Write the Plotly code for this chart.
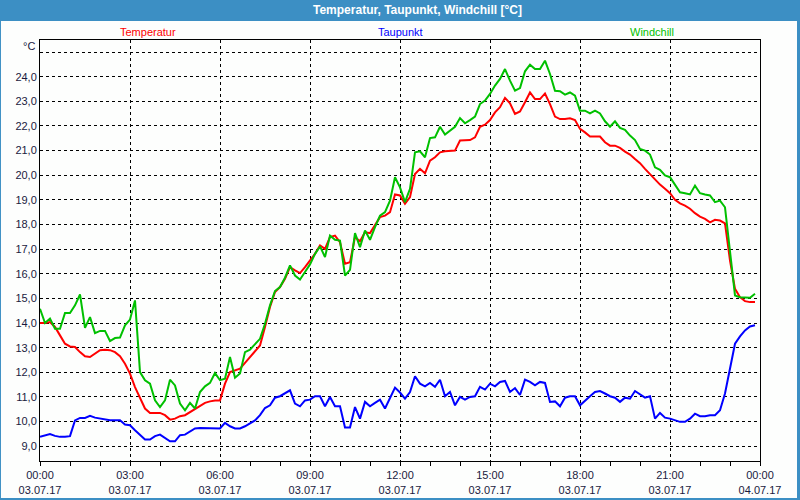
import pandas as pd
import plotly.graph_objects as go

# 10-minute readings, 03.07.17 00:00 .. 23:50
zeit = pd.date_range("2017-07-03 00:00", periods=144, freq="10min")

temperatur = [
    14.0, 14.0, 14.04, 13.84, 13.5, 13.16, 13.05, 13.03, 12.82, 12.65, 12.62, 12.76,
    12.9, 12.92, 12.9, 12.82, 12.65, 12.35, 11.95, 11.4, 10.93, 10.53, 10.35, 10.35,
    10.35, 10.26, 10.08, 10.12, 10.22, 10.26, 10.39, 10.53, 10.66, 10.76, 10.82, 10.86,
    10.86, 11.54, 12.01, 12.08, 12.15, 12.38, 12.62, 12.82, 13.09, 13.84, 14.65, 15.26,
    15.46, 15.8, 16.27, 16.14, 16.03, 16.27, 16.54, 16.81, 17.15, 17.01, 17.49, 17.55,
    17.28, 16.41, 16.47, 17.49, 17.32, 17.69, 17.65, 17.96, 18.3, 18.36, 18.5, 19.22,
    19.18, 18.84, 19.11, 20.05, 20.26, 20.08, 20.59, 20.73, 20.93, 20.97, 20.97, 21.0,
    21.41, 21.43, 21.43, 21.54, 21.97, 22.05, 22.24, 22.55, 22.76, 23.14, 22.92, 22.49,
    22.59, 22.96, 23.36, 23.09, 23.09, 23.32, 22.89, 22.38, 22.28, 22.28, 22.31, 22.24,
    21.88, 21.74, 21.57, 21.57, 21.57, 21.34, 21.2, 21.2, 21.11, 20.96, 20.84, 20.66,
    20.49, 20.26, 20.05, 19.81, 19.62, 19.45, 19.27, 19.0, 18.86, 18.77, 18.64, 18.46,
    18.32, 18.23, 18.09, 18.19, 18.16, 18.05, 16.54, 15.39, 15.05, 14.89, 14.85, 14.85,
]

taupunkt = [
    9.38, 9.45, 9.49, 9.42, 9.38, 9.38, 9.41, 10.05, 10.15, 10.15, 10.23, 10.16,
    10.12, 10.08, 10.05, 10.05, 10.05, 9.88, 9.85, 9.65, 9.45, 9.27, 9.27, 9.41,
    9.47, 9.34, 9.2, 9.2, 9.45, 9.47, 9.58, 9.72, 9.74, 9.74, 9.72, 9.72,
    9.72, 9.95, 9.81, 9.72, 9.72, 9.81, 9.92, 10.05, 10.26, 10.55, 10.66, 10.97,
    11.03, 11.16, 11.27, 10.73, 10.62, 10.86, 10.89, 11.03, 11.03, 10.62, 11.0, 10.62,
    10.62, 9.76, 9.76, 10.59, 10.12, 10.8, 10.62, 10.76, 10.89, 10.53, 10.93, 11.38,
    11.18, 10.93, 11.2, 11.84, 11.54, 11.43, 11.57, 11.41, 11.7, 11.03, 11.2, 10.66,
    11.0, 10.89, 11.0, 11.03, 11.41, 11.3, 11.54, 11.43, 11.61, 11.65, 11.2, 11.36,
    11.08, 11.7, 11.61, 11.47, 11.61, 11.57, 10.8, 10.82, 10.62, 10.97, 11.03, 11.03,
    10.66, 10.86, 11.03, 11.2, 11.24, 11.14, 11.03, 10.97, 10.8, 10.97, 10.93, 11.24,
    11.11, 10.97, 11.03, 10.12, 10.35, 10.16, 10.12, 10.05, 9.99, 9.99, 10.12, 10.32,
    10.22, 10.22, 10.26, 10.26, 10.46, 11.14, 12.22, 13.16, 13.46, 13.7, 13.86, 13.91,
]

windchill = [
    14.58, 14.0, 14.18, 13.77, 13.77, 14.41, 14.41, 14.72, 15.16, 13.81, 14.24, 13.59,
    13.68, 13.68, 13.27, 13.39, 13.41, 13.91, 14.14, 14.92, 12.01, 11.68, 11.54, 10.86,
    10.59, 10.86, 11.7, 11.47, 10.73, 10.46, 10.76, 10.53, 11.2, 11.43, 11.57, 11.97,
    11.68, 11.74, 12.62, 11.78, 11.95, 12.82, 12.92, 13.16, 13.36, 13.97, 14.72, 15.3,
    15.46, 15.84, 16.34, 15.93, 15.77, 16.07, 16.38, 16.81, 17.11, 16.68, 17.55, 17.38,
    17.35, 15.93, 16.16, 17.65, 17.08, 17.76, 17.38, 17.89, 18.36, 18.5, 18.97, 19.92,
    19.51, 18.91, 19.45, 20.93, 20.97, 20.73, 21.51, 21.54, 21.97, 21.65, 21.81, 21.97,
    22.32, 22.11, 22.24, 22.38, 22.89, 23.03, 23.3, 23.64, 23.91, 24.31, 23.84, 23.43,
    23.54, 24.22, 24.49, 24.31, 24.31, 24.65, 24.11, 23.43, 23.41, 23.27, 23.36, 23.23,
    22.62, 22.62, 22.51, 22.62, 22.51, 22.19, 21.97, 22.19, 21.92, 21.84, 21.61, 21.43,
    21.07, 21.0, 20.84, 20.32, 20.22, 19.99, 19.92, 19.62, 19.31, 19.27, 19.22, 19.58,
    19.27, 19.22, 19.18, 18.91, 18.97, 18.7, 16.81, 15.12, 15.05, 15.03, 15.03, 15.19,
]

x_ticks = pd.date_range("2017-07-03 00:00", "2017-07-04 00:00", freq="3h")
x_labels = [
    "00:00<br>03.07.17", "03:00<br>03.07.17", "06:00<br>03.07.17",
    "09:00<br>03.07.17", "12:00<br>03.07.17", "15:00<br>03.07.17",
    "18:00<br>03.07.17", "21:00<br>03.07.17", "00:00<br>04.07.17",
]
y_ticks = list(range(9, 26))
y_labels = [f"{v},0" for v in range(9, 25)] + [""]

FRAME = "#3c8fc4"
BG = "#fdfefd"
TXT = "#1a1a40"
FONT = "Liberation Sans"

series = [
    ("Temperatur", temperatur, "#ff0000"),
    ("Taupunkt", taupunkt, "#0000ff"),
    ("Windchill", windchill, "#00c000"),
]

fig = go.Figure()
for name, vals, col in series:
    fig.add_trace(go.Scatter(x=zeit, y=vals, name=name, mode="lines",
                             line=dict(color=col, width=2)))

# window frame: blue title bar + thin borders, white client area
fig.add_shape(type="rect", xref="paper", yref="paper",
              x0=-0.0542, x1=1.0514, y0=-0.0879, y1=1.0451,
              fillcolor=BG, line_width=0, layer="below")

fig.add_annotation(text="<b>Temperatur, Taupunkt, Windchill [°C]</b>",
                   xref="paper", yref="paper", x=0.524, y=1.0713,
                   xanchor="center", yanchor="middle", showarrow=False,
                   font=dict(family=FONT, size=12, color="white"))

# legend labels above the plot
for (name, _, col), xpos in zip(series, [0.15, 0.5, 0.85]):
    fig.add_annotation(text=name, xref="paper", yref="paper", x=xpos, y=1.019,
                       xanchor="center", yanchor="middle", showarrow=False,
                       font=dict(family=FONT, size=11, color=col))

fig.add_annotation(text="°C", xref="paper", yref="paper", x=-0.004, y=0.9857,
                   xanchor="right", yanchor="middle", showarrow=False,
                   font=dict(family=FONT, size=11, color=TXT))

axis_common = dict(
    showline=True, linecolor="black", linewidth=1, mirror=True,
    showgrid=True, gridcolor="black", gridwidth=1, griddash="3px,3px",
    zeroline=False, automargin=False,
    tickfont=dict(family=FONT, size=11, color=TXT),
)

fig.update_xaxes(
    **axis_common,
    type="date",
    range=["2017-07-03 00:00", "2017-07-04 00:00"],
    tickvals=x_ticks, ticktext=x_labels,
    ticks="outside", ticklen=4, tickcolor="black",
    minor=dict(tick0="2017-07-03 00:00", dtick=3600 * 1000, ticks="outside",
               ticklen=4, tickcolor="black", showgrid=False),
)
fig.update_yaxes(
    **axis_common,
    range=[8.4, 25.49],
    tickvals=y_ticks, ticktext=y_labels,
    ticks="",
)

fig.update_layout(
    width=800, height=500,
    margin=dict(l=40, r=40, t=40, b=39),
    paper_bgcolor=FRAME, plot_bgcolor=BG,
    showlegend=False, hovermode="x",
    font=dict(family=FONT, size=11, color=TXT),
)

fig.write_html("out.html", config={"displayModeBar": False},
               post_script="document.body.style.margin='0';")
